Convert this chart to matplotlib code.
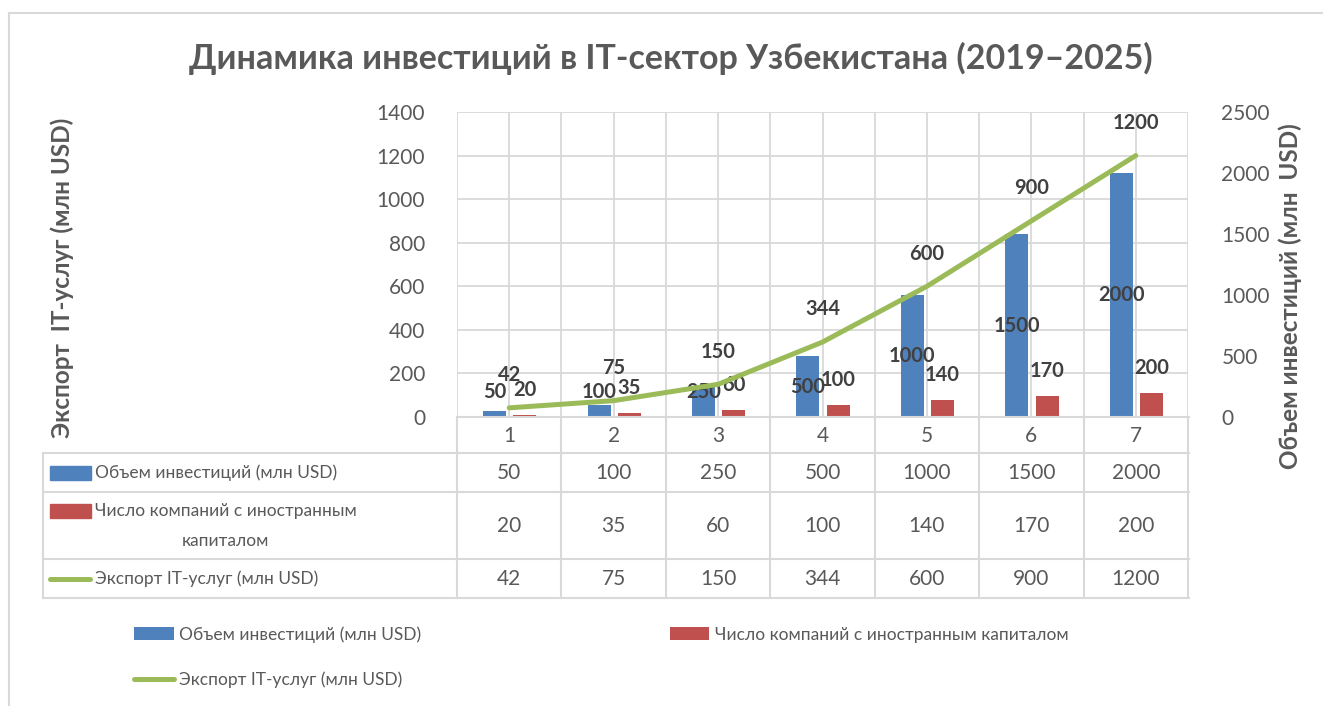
import numpy as np
import matplotlib
matplotlib.use("Agg")
import matplotlib.pyplot as plt
from matplotlib.lines import Line2D
from matplotlib.patches import Rectangle
import matplotlib.transforms as mtransforms

plt.rcParams['font.family'] = ['Lato', 'Open Sans', 'DejaVu Sans']

# ---------------- data ----------------
categories = [1, 2, 3, 4, 5, 6, 7]
investments = [50, 100, 250, 500, 1000, 1500, 2000]      # right axis
companies = [20, 35, 60, 100, 140, 170, 200]              # right axis
exports = [42, 75, 150, 344, 600, 900, 1200]              # left axis
name_inv = "Объем инвестиций (млн USD)"
name_comp = "Число компаний с иностранным капиталом"
name_comp_table = "Число компаний с иностранным\nкапиталом"
name_exp = "Экспорт IT-услуг (млн USD)"
title = "Динамика инвестиций в IT-сектор Узбекистана (2019–2025)"
left_label = "Экспорт  IT-услуг (млн USD)"
right_label = "Объем инвестиций (млн  USD)"
left_ticks = [0, 200, 400, 600, 800, 1000, 1200, 1400]
right_ticks = [0, 500, 1000, 1500, 2000, 2500]

BLUE = "#4F81BD"
RED = "#C0504D"
GREEN = "#9BBB59"
GREY = "#595959"
DARK = "#404040"
GRID = "#D9D9D9"

NUM_FS = 15
TXT_FS = 12.5

W, H = 1323, 706
fig = plt.figure(figsize=(W / 100, H / 100), dpi=100)
fig.patch.set_facecolor("white")

def fx(px):
    return px / W

def fy(py):
    return 1 - py / H

# chart border
fig.add_artist(Line2D([fx(9), fx(9)], [fy(13), 0], color=GRID, lw=1.5))
fig.add_artist(Line2D([fx(9), 1], [fy(13), fy(13)], color=GRID, lw=1.5))

L, R, T, B = 457, 1188, 112, 417
rect = [fx(L), fy(B), fx(R) - fx(L), fy(T) - fy(B)]

ax = fig.add_axes(rect)           # left scale, gridlines
ax2 = ax.twinx()                  # right scale, bars
ax3 = ax.twinx()                  # left scale, line on top

x = np.array(categories, dtype=float)
for a in (ax, ax2, ax3):
    a.set_xlim(0.5, 7.5)
    for s in a.spines.values():
        s.set_visible(False)
    a.patch.set_visible(False)

ax.set_ylim(0, 1400)
ax3.set_ylim(0, 1400)
ax2.set_ylim(0, 2500)

ax.set_yticks(left_ticks)
ax.set_yticklabels([str(t) for t in left_ticks], fontsize=NUM_FS, color=GREY)
ax.set_xticks(np.arange(0.5, 7.51, 0.5))
ax.set_xticklabels([])
ax.tick_params(axis='both', length=0)
ax.tick_params(axis='y', pad=23)
ax.grid(True, color=GRID, lw=1.3)
ax.set_axisbelow(True)

ax2.set_yticks(right_ticks)
ax2.set_yticklabels([str(t) for t in right_ticks], fontsize=NUM_FS, color=GREY)
ax2.tick_params(axis='y', length=0, pad=24)
ax3.set_yticks([])
ax3.tick_params(length=0)

bw = 0.22
bars_inv = ax2.bar(x - 0.14, investments, width=bw, color=BLUE, label=name_inv, zorder=2)
bars_comp = ax2.bar(x + 0.15, companies, width=bw, color=RED, label=name_comp, zorder=2)
line_exp, = ax3.plot(x, exports, color=GREEN, lw=3.6, solid_capstyle='round', label=name_exp)

# data labels
lab_kw = dict(fontsize=14.5, fontweight='bold', color=DARK, ha='center', va='center')
for xi, v in zip(x, investments):
    ax2.annotate(str(v), (xi - 0.14, max(v / 2, 205)), **lab_kw)
for xi, v in zip(x, companies):
    ax2.annotate(str(v), (xi + 0.15, v), xytext=(0, 18), textcoords='offset points', **lab_kw)
for xi, v in zip(x, exports):
    ax3.annotate(str(v), (xi, v), xytext=(0, 23.5), textcoords='offset points', **lab_kw)

# axis titles
fig.text(fx(62), fy(278), left_label, rotation=90, fontsize=17.5, fontweight='bold',
         color=GREY, ha='center', va='center')
fig.text(fx(1290), fy(296), right_label, rotation=90, fontsize=17.5, fontweight='bold',
         color=GREY, ha='center', va='center')

# title
fig.text(fx(671), fy(58), title, fontsize=24.5, fontweight='bold', color=GREY,
         ha='center', va='center')

# ---------------- data table ----------------
tb = mtransforms.blended_transform_factory(ax.transData, fig.transFigure)
ff = fig.transFigure
rows_y = [417, 453, 492, 559, 598]
tlw = 1.5
fig.add_artist(Line2D([fx(L), fx(1189)], [fy(417), fy(417)], color=GRID, lw=tlw))
for yy in rows_y[1:]:
    fig.add_artist(Line2D([fx(43), fx(1189)], [fy(yy), fy(yy)], color=GRID, lw=tlw))
fig.add_artist(Line2D([fx(43), fx(43)], [fy(453), fy(598)], color=GRID, lw=tlw))
for xb in np.arange(0.5, 7.51, 1.0):
    fig.add_artist(Line2D([xb, xb], [fy(417), fy(598)], color=GRID, lw=tlw, transform=tb))

tab_kw = dict(fontsize=NUM_FS, color=GREY, ha='center', va='center')
for xi, c in zip(x, categories):
    fig.text(xi, fy(436), str(c), transform=tb, **tab_kw)
for xi, v in zip(x, investments):
    fig.text(xi, fy(473), str(v), transform=tb, **tab_kw)
for xi, v in zip(x, companies):
    fig.text(xi, fy(526), str(v), transform=tb, **tab_kw)
for xi, v in zip(x, exports):
    fig.text(xi, fy(579), str(v), transform=tb, **tab_kw)

fig.add_artist(Rectangle((fx(50), fy(480)), fx(41), fy(466) - fy(480), color=BLUE, transform=ff))
fig.text(fx(95), fy(473), name_inv, fontsize=TXT_FS, color=GREY, ha='left', va='center')
fig.add_artist(Rectangle((fx(50), fy(518)), fx(41), fy(504) - fy(518), color=RED, transform=ff))
fig.text(fx(95), fy(526), name_comp_table, fontsize=TXT_FS, color=GREY, ha='left', va='center',
         multialignment='center', linespacing=2.05)
fig.add_artist(Line2D([fx(50), fx(90)], [fy(579), fy(579)], color=GREEN, lw=3.6,
                      solid_capstyle='round'))
fig.text(fx(95), fy(579), name_exp, fontsize=TXT_FS, color=GREY, ha='left', va='center')

# ---------------- legend ----------------
leg = fig.legend(handles=[bars_inv, line_exp, bars_comp],
                 labels=[name_inv, name_exp, name_comp],
                 ncol=2, loc='upper left', bbox_to_anchor=(fx(134), fy(626)),
                 frameon=False, fontsize=TXT_FS, labelcolor=GREY,
                 handlelength=2.3, handleheight=0.75, handletextpad=0.3,
                 columnspacing=14.3, labelspacing=1.65, borderpad=0, borderaxespad=0)

fig.savefig("out.png", dpi=100, facecolor="white")
